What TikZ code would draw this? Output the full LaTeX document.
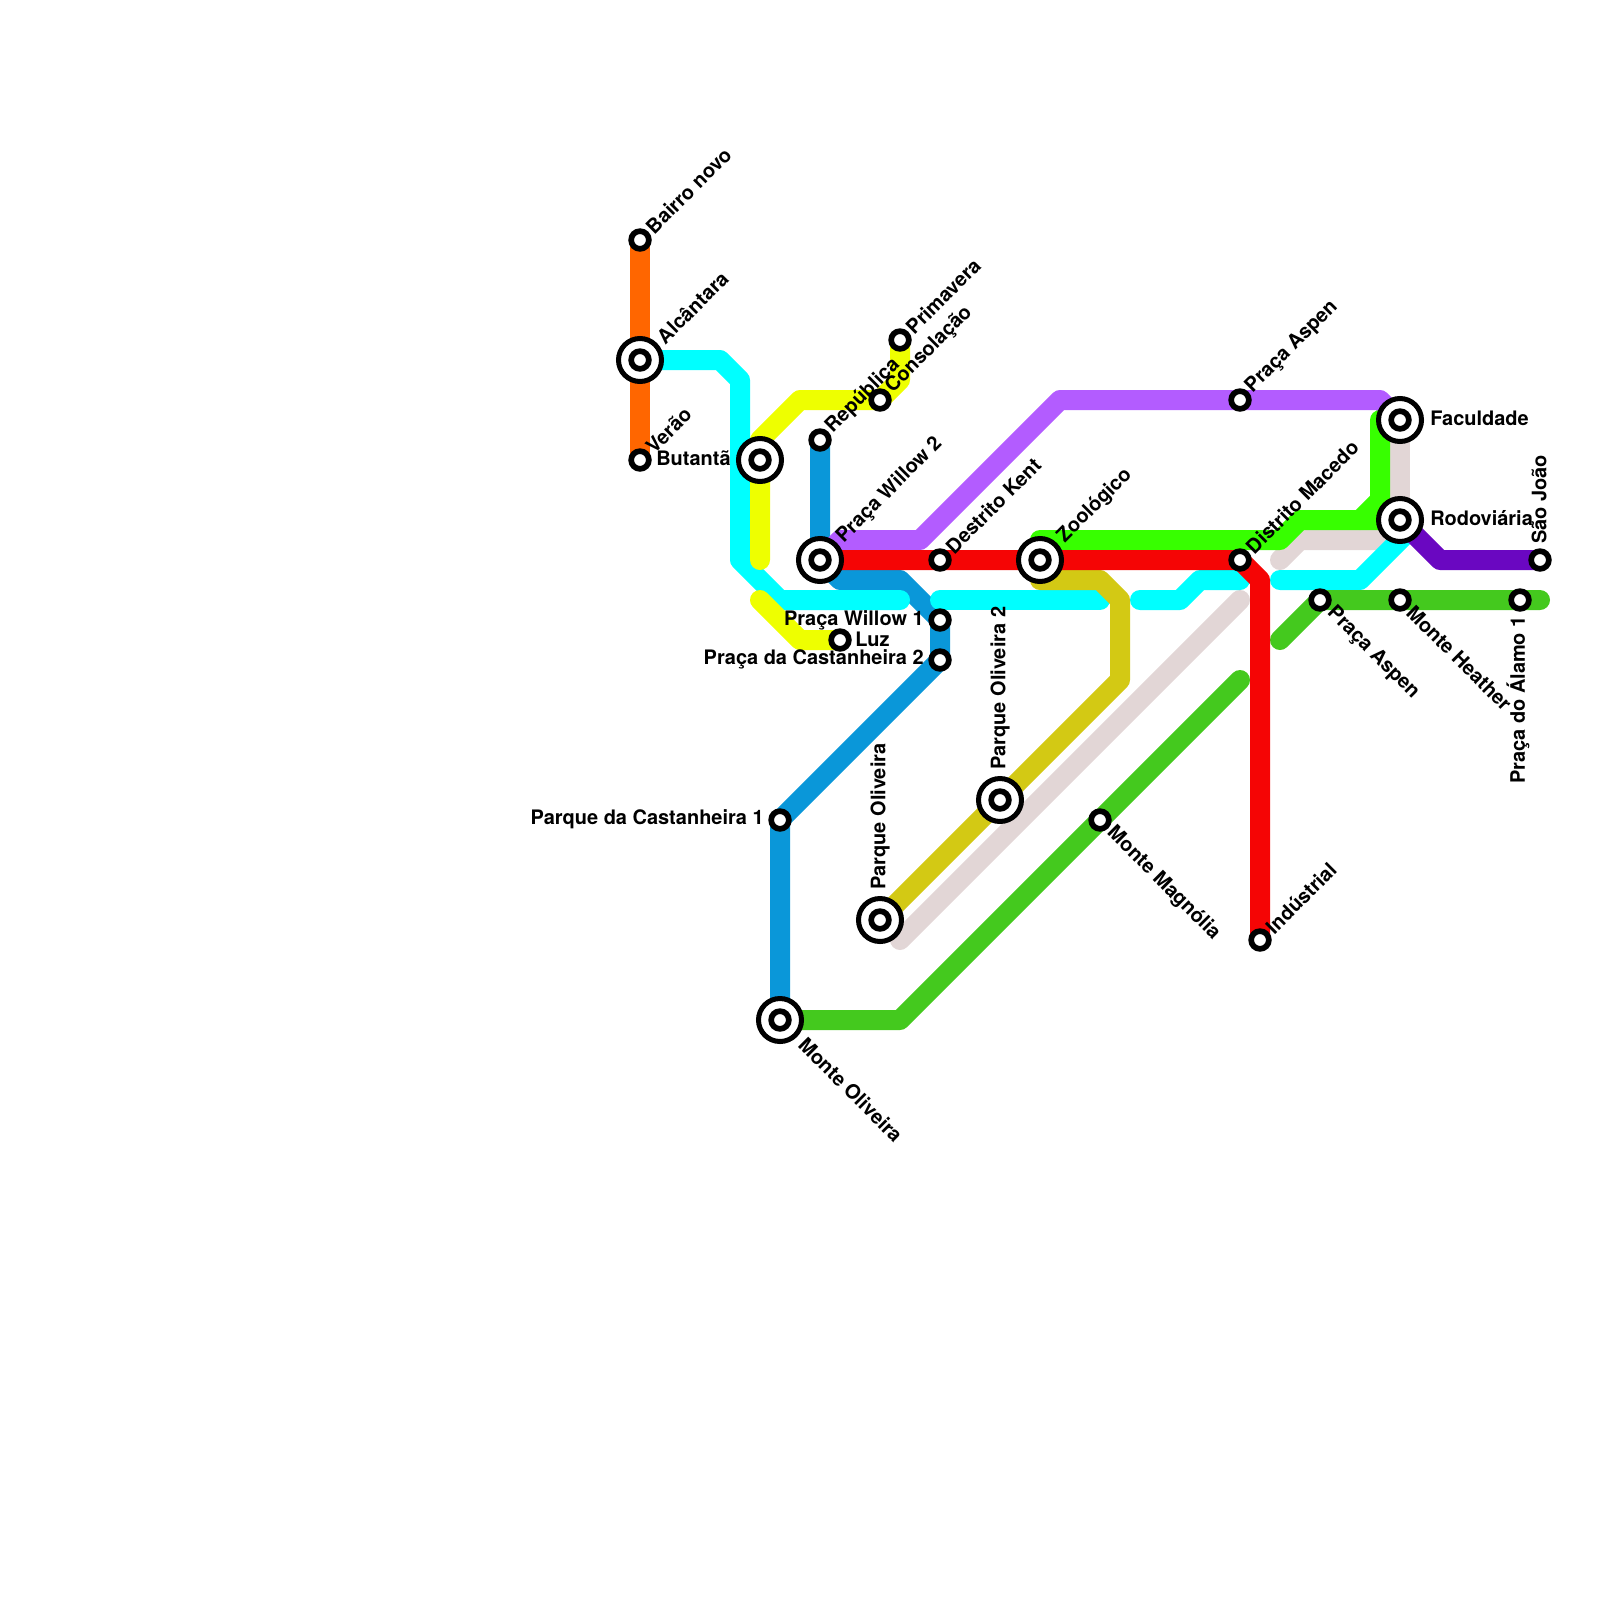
\documentclass[tikz,border=0pt]{standalone}
\usepackage{fontspec}
\setmainfont{TeX Gyre Heros}
\usetikzlibrary{
    calc
}
\definecolor{LineOrange}{HTML}{FF6600}
\definecolor{LineCyan}{HTML}{00FFFF}
\definecolor{LineYellow}{HTML}{EEFF00}
\definecolor{LineBlue}{HTML}{0A97D9}
\definecolor{LinePurple}{HTML}{B35CFF}
\definecolor{LineRed}{HTML}{F50505}
\definecolor{LineLime}{HTML}{37FF00}
\definecolor{LineGold}{HTML}{D3C914}
\definecolor{LineGrey}{HTML}{E2D6D6}
\definecolor{LineGreen}{HTML}{44C91E}
\definecolor{LineViolet}{HTML}{6A07C1}
\tikzset{
    metro/.style={line width=0.5cm, line cap=round, line join=round},
    halt/.style={circle, draw=black, fill=white, line width=0.1425cm, minimum size=0.4425cm, inner sep=0pt, outer sep=0pt},
    hub/.style={circle, draw=black, fill=white, line width=0.125cm, minimum size=1.075cm, inner sep=0pt, outer sep=0pt},
    tag/.style={inner sep=0pt, font=\fontsize{14.2}{17}\selectfont\bfseries},
    tagup/.style={tag, rotate=45, anchor=west},
    tagdown/.style={tag, rotate=-45, anchor=west},
    tagvert/.style={tag, rotate=90, anchor=west}
}

\begin{document}
\begin{tikzpicture}[
    x=0.5cm,
    y=-0.5cm
]
\useasboundingbox (0,0) rectangle (80,80);

% stations
\coordinate (Bairro) at (32,12);
\coordinate (Alcantara) at (32,18);
\coordinate (Verao) at (32,23);
\coordinate (Butanta) at (38,23);
\coordinate (Republica) at (41,22);
\coordinate (Consolacao) at (44,20);
\coordinate (Primavera) at (45,17);
\coordinate (Willow2) at (41,28);
\coordinate (Kent) at (47,28);
\coordinate (Zoo) at (52,28);
\coordinate (Willow1) at (47,31);
\coordinate (Castanheira2) at (47,33);
\coordinate (Luz) at (42,32);
\coordinate (AspenTop) at (62,20);
\coordinate (Faculdade) at (70,21);
\coordinate (Rodoviaria) at (70,26);
\coordinate (Macedo) at (62,28);
\coordinate (SaoJoao) at (77,28);
\coordinate (AspenLow) at (66,30);
\coordinate (Heather) at (70,30);
\coordinate (Alamo) at (76,30);
\coordinate (Industrial) at (63,47);
\coordinate (Magnolia) at (55,41);
\coordinate (Oliveira2) at (50,40);
\coordinate (Oliveira) at (44,46);
\coordinate (Castanheira1) at (39,41);
\coordinate (MonteOliveira) at (39,51);

% free line ends
\coordinate (CyanA) at (45,30);
\coordinate (CyanB) at (47,30);
\coordinate (CyanC) at (55,30);
\coordinate (CyanD) at (57,30);
\coordinate (CyanE) at (62,29);
\coordinate (CyanF) at (64,29);
\coordinate (CyanG) at (70.5,26.5);
\coordinate (YellowA) at (38,28);
\coordinate (YellowB) at (38,30);
\coordinate (GreyA) at (69,27);
\coordinate (GreyB) at (62,30);
\coordinate (GreyC) at (45,47);
\coordinate (GreenA) at (62,34);
\coordinate (GreenB) at (64,32);
\coordinate (GreenC) at (77,30);

\draw[metro, LineOrange]
    (Bairro) -- (Alcantara) -- (Verao);

\draw[metro, LineBlue]
    (Republica) -- (Willow2) -- ++(1,1) -- ++(3,0) -- (Willow1)
    -- (Castanheira2) -- (Castanheira1) -- (MonteOliveira);

\draw[metro, LineGrey]
    (Faculdade) -- (Rodoviaria);
\draw[metro, LineGrey]
    (GreyA) -- ++(-4,0) -- ++(-1,1);
\draw[metro, LineGrey]
    (GreyB) -- (GreyC);

\draw[metro, LineCyan]
    (Alcantara) -- ++(4,0) -- ++(1,1) -- ++(0,9) -- ++(2,2) -- (CyanA);
\draw[metro, LineCyan]
    (CyanB) -- (CyanC);
\draw[metro, LineCyan]
    (CyanD) -- ++(2,0) -- ++(1,-1) -- (CyanE);
\draw[metro, LineCyan]
    (CyanF) -- ++(4,0) -- (CyanG);

\draw[metro, LineYellow]
    (Primavera) -- ++(0,2) -- (Consolacao) -- ++(-4,0) -- ++(-2,2)
    -- (Butanta) -- (YellowA);
\draw[metro, LineYellow]
    (YellowB) -- ++(2,2) -- (Luz);

\draw[metro, LinePurple]
    (Willow2) -- ++(1,-1) -- ++(4,0) -- ++(7,-7) -- (AspenTop)
    -- ++(7,0) -- (Faculdade);

\draw[metro, LineGold]
    (Zoo) -- ++(0,1) -- ++(3,0) -- ++(1,1) -- ++(0,4) -- (Oliveira2)
    -- (Oliveira);

\draw[metro, LineLime]
    (Zoo) -- ++(0,-1) -- ++(12,0) -- ++(1,-1) -- (Rodoviaria);
\draw[metro, LineLime]
    (Faculdade) -- ++(-1,0) -- ++(0,4) -- ++(-1,1);

\draw[metro, LineGreen]
    (MonteOliveira) -- ++(6,0) -- (Magnolia) -- (GreenA);
\draw[metro, LineGreen]
    (GreenB) -- (AspenLow) -- (Heather) -- (Alamo) -- (GreenC);

\draw[metro, LineViolet]
    (Rodoviaria) -- ++(2,2) -- (SaoJoao);

\draw[metro, LineRed]
    (Willow2) -- (Kent) -- (Zoo) -- (Macedo) -- ++(1,1) -- (Industrial);

% hubs
\node[hub] (hubAlcantara) at (Alcantara) {};
\node[hub] (hubButanta) at (Butanta) {};
\node[hub] (hubWillow2) at (Willow2) {};
\node[hub] (hubZoo) at (Zoo) {};
\node[hub] (hubFaculdade) at (Faculdade) {};
\node[hub] (hubRodoviaria) at (Rodoviaria) {};
\node[hub] (hubOliveira2) at (Oliveira2) {};
\node[hub] (hubOliveira) at (Oliveira) {};
\node[hub] (hubMonteOliveira) at (MonteOliveira) {};

% halts
\node[halt] (nBairro) at (Bairro) {};
\node[halt] (nAlcantara) at (Alcantara) {};
\node[halt] (nVerao) at (Verao) {};
\node[halt] (nButanta) at (Butanta) {};
\node[halt] (nRepublica) at (Republica) {};
\node[halt] (nConsolacao) at (Consolacao) {};
\node[halt] (nPrimavera) at (Primavera) {};
\node[halt] (nWillow2) at (Willow2) {};
\node[halt] (nKent) at (Kent) {};
\node[halt] (nZoo) at (Zoo) {};
\node[halt] (nWillow1) at (Willow1) {};
\node[halt] (nCastanheira2) at (Castanheira2) {};
\node[halt] (nLuz) at (Luz) {};
\node[halt] (nAspenTop) at (AspenTop) {};
\node[halt] (nFaculdade) at (Faculdade) {};
\node[halt] (nRodoviaria) at (Rodoviaria) {};
\node[halt] (nMacedo) at (Macedo) {};
\node[halt] (nSaoJoao) at (SaoJoao) {};
\node[halt] (nAspenLow) at (AspenLow) {};
\node[halt] (nHeather) at (Heather) {};
\node[halt] (nAlamo) at (Alamo) {};
\node[halt] (nIndustrial) at (Industrial) {};
\node[halt] (nMagnolia) at (Magnolia) {};
\node[halt] (nOliveira2) at (Oliveira2) {};
\node[halt] (nOliveira) at (Oliveira) {};
\node[halt] (nCastanheira1) at (Castanheira1) {};
\node[halt] (nMonteOliveira) at (MonteOliveira) {};

% labels
\node[tagup] (tBairro) at ($(Bairro)+(0.45,-0.5)$) {Bairro novo};
\node[tagup] (tAlcantara) at ($(Alcantara)+(1,-1)$) {Alcântara};
\node[tagup] (tVerao) at ($(Verao)+(0.45,-0.5)$) {Verão};
\node[tag, anchor=west] (tButanta) at ($(Verao)+(0.8,-0.1)$) {Butantã};
\node[tagup] (tRepublica) at ($(Republica)+(0.45,-0.5)$) {República};
\node[tagup] (tConsolacao) at ($(Consolacao)+(0.45,-0.5)$) {Consolação};
\node[tagup] (tPrimavera) at ($(Primavera)+(0.45,-0.5)$) {Primavera};
\node[tagup] (tWillow2) at ($(Willow2)+(1,-1)$) {Praça Willow 2};
\node[tagup] (tKent) at ($(Kent)+(0.45,-0.5)$) {Destrito Kent};
\node[tagup] (tZoo) at ($(Zoo)+(1.05,-1.02)$) {Zoológico};
\node[tagup] (tAspenTop) at ($(AspenTop)+(0.45,-0.5)$) {Praça Aspen};
\node[tagup] (tMacedo) at ($(Macedo)+(0.45,-0.5)$) {Distrito Macedo};
\node[tagup] (tIndustrial) at ($(Industrial)+(0.45,-0.5)$) {Indústrial};
\node[tag, anchor=east] (tWillow1) at ($(Willow1)+(-0.8,0)$) {Praça Willow 1};
\node[tag, anchor=east] (tCastanheira2) at ($(Castanheira2)+(-0.8,-0.05)$) {Praça da Castanheira 2};
\node[tag, anchor=east] (tCastanheira1) at ($(Castanheira1)+(-0.8,-0.05)$) {Parque da Castanheira 1};
\node[tag, anchor=west] (tLuz) at ($(Luz)+(0.75,-0.05)$) {Luz};
\node[tag, anchor=west] (tFaculdade) at ($(Faculdade)+(1.5,-0.1)$) {Faculdade};
\node[tag, anchor=west] (tRodoviaria) at ($(Rodoviaria)+(1.5,-0.1)$) {Rodoviária};
\node[tagdown] (tAspenLow) at ($(AspenLow)+(0.5,0.5)$) {Praça Aspen};
\node[tagdown] (tHeather) at ($(Heather)+(0.5,0.45)$) {Monte Heather};
\node[tagdown] (tMagnolia) at ($(Magnolia)+(0.5,0.5)$) {Monte Magnólia};
\node[tagdown] (tMonteOliveira) at ($(MonteOliveira)+(1.1,1.05)$) {Monte Oliveira};
\node[tagvert] (tOliveira) at ($(Oliveira)+(0,-1.5)$) {Parque Oliveira};
\node[tagvert] (tOliveira2) at ($(Oliveira2)+(0,-1.5)$) {Parque Oliveira 2};
\node[tagvert] (tSaoJoao) at ($(SaoJoao)+(-0.05,-0.8)$) {São João};
\node[tag, rotate=90, anchor=east] (tAlamo) at ($(Alamo)+(-0.1,0.8)$) {Praça do Álamo 1};

\end{tikzpicture}
\end{document}
